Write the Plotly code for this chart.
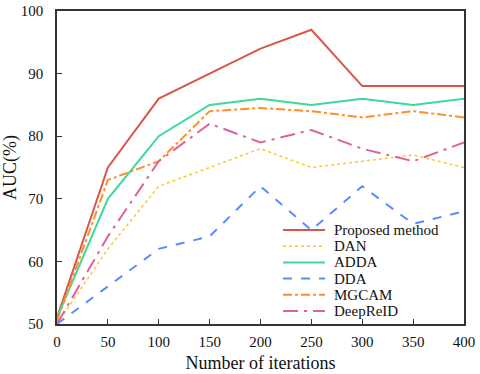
import plotly.graph_objects as go

# ── Data ──────────────────────────────────────────────
iterations = [0, 50, 100, 150, 200, 250, 300, 350, 400]
proposed   = [51, 75, 86, 90, 94, 97, 88, 88, 88]
dan        = [50, 62, 72, 75, 78, 75, 76, 77, 75]
adda       = [51, 70, 80, 85, 86, 85, 86, 85, 86]
dda        = [50, 56, 62, 64, 72, 65, 72, 66, 68]
mgcam      = [50.5, 73, 76, 84, 84.5, 84, 83, 84, 83]
deepreid   = [50, 64, 76, 82, 79, 81, 78, 76, 79]

# ── Styles ────────────────────────────────────────────
series = [
    ("Proposed method", proposed, "#D9574A", "solid", 2),
    ("DAN",             dan,      "#FFC52E", "dot", 1.5),
    ("ADDA",            adda,     "#3DD99B", "solid", 2),
    ("DDA",             dda,      "#5A8CFF", "dash", 2),
    ("MGCAM",           mgcam,    "#FF8F2A", "dashdot", 2),
    ("DeepReID",        deepreid, "#E0619F", "longdashdot", 2),
]

W, H = 480, 374
L, T = 57, 11
R, B = W - 464, H - 324
PW, PH = W - L - R, H - T - B

fig = go.Figure()
for name, vals, color, dash, width in series:
    fig.add_trace(go.Scatter(
        x=iterations, y=vals, name=name, mode="lines",
        line=dict(color=color, dash=dash, width=width),
        showlegend=False,
    ))

# ── Legend (compact, like the original) ───────────────
row0, gap = 230, 16.2
for i, (name, vals, color, dash, width) in enumerate(series):
    py = row0 + i * gap
    yp = (H - B - py) / PH
    fig.add_shape(
        type="line", xref="paper", yref="paper",
        x0=(283 - L) / PW, x1=(325 - L) / PW, y0=yp, y1=yp,
        line=dict(color=color, dash=dash, width=width),
    )
    fig.add_annotation(
        xref="paper", yref="paper", x=(332 - L) / PW, y=yp,
        text=name, showarrow=False, xanchor="left", yanchor="middle",
        font=dict(size=15, color="#111"),
    )

axis_common = dict(
    showline=True, linecolor="#333", linewidth=1.5, mirror=True,
    ticks="inside", ticklen=5, tickcolor="#333", showgrid=False, zeroline=False,
    tickfont=dict(size=15, color="#111"), automargin=False,
)

fig.update_layout(
    width=W, height=H,
    paper_bgcolor="white", plot_bgcolor="white",
    font=dict(family="Liberation Serif", color="#111", size=15),
    margin=dict(l=L, r=R, t=T, b=B),
    xaxis=dict(axis_common, range=[0, 400], dtick=50, ticklabelstandoff=3,
               title=dict(text="Number of iterations", font=dict(size=18), standoff=8)),
    yaxis=dict(axis_common, range=[50, 100], dtick=10, ticklabelstandoff=9,
               title=dict(text="AUC(%)", font=dict(size=18), standoff=0)),
)

# drop the default 8px body margin so the figure fills the window exactly
fig.write_html("out.html", config={"displayModeBar": False},
               post_script="document.body.style.margin='0';")
